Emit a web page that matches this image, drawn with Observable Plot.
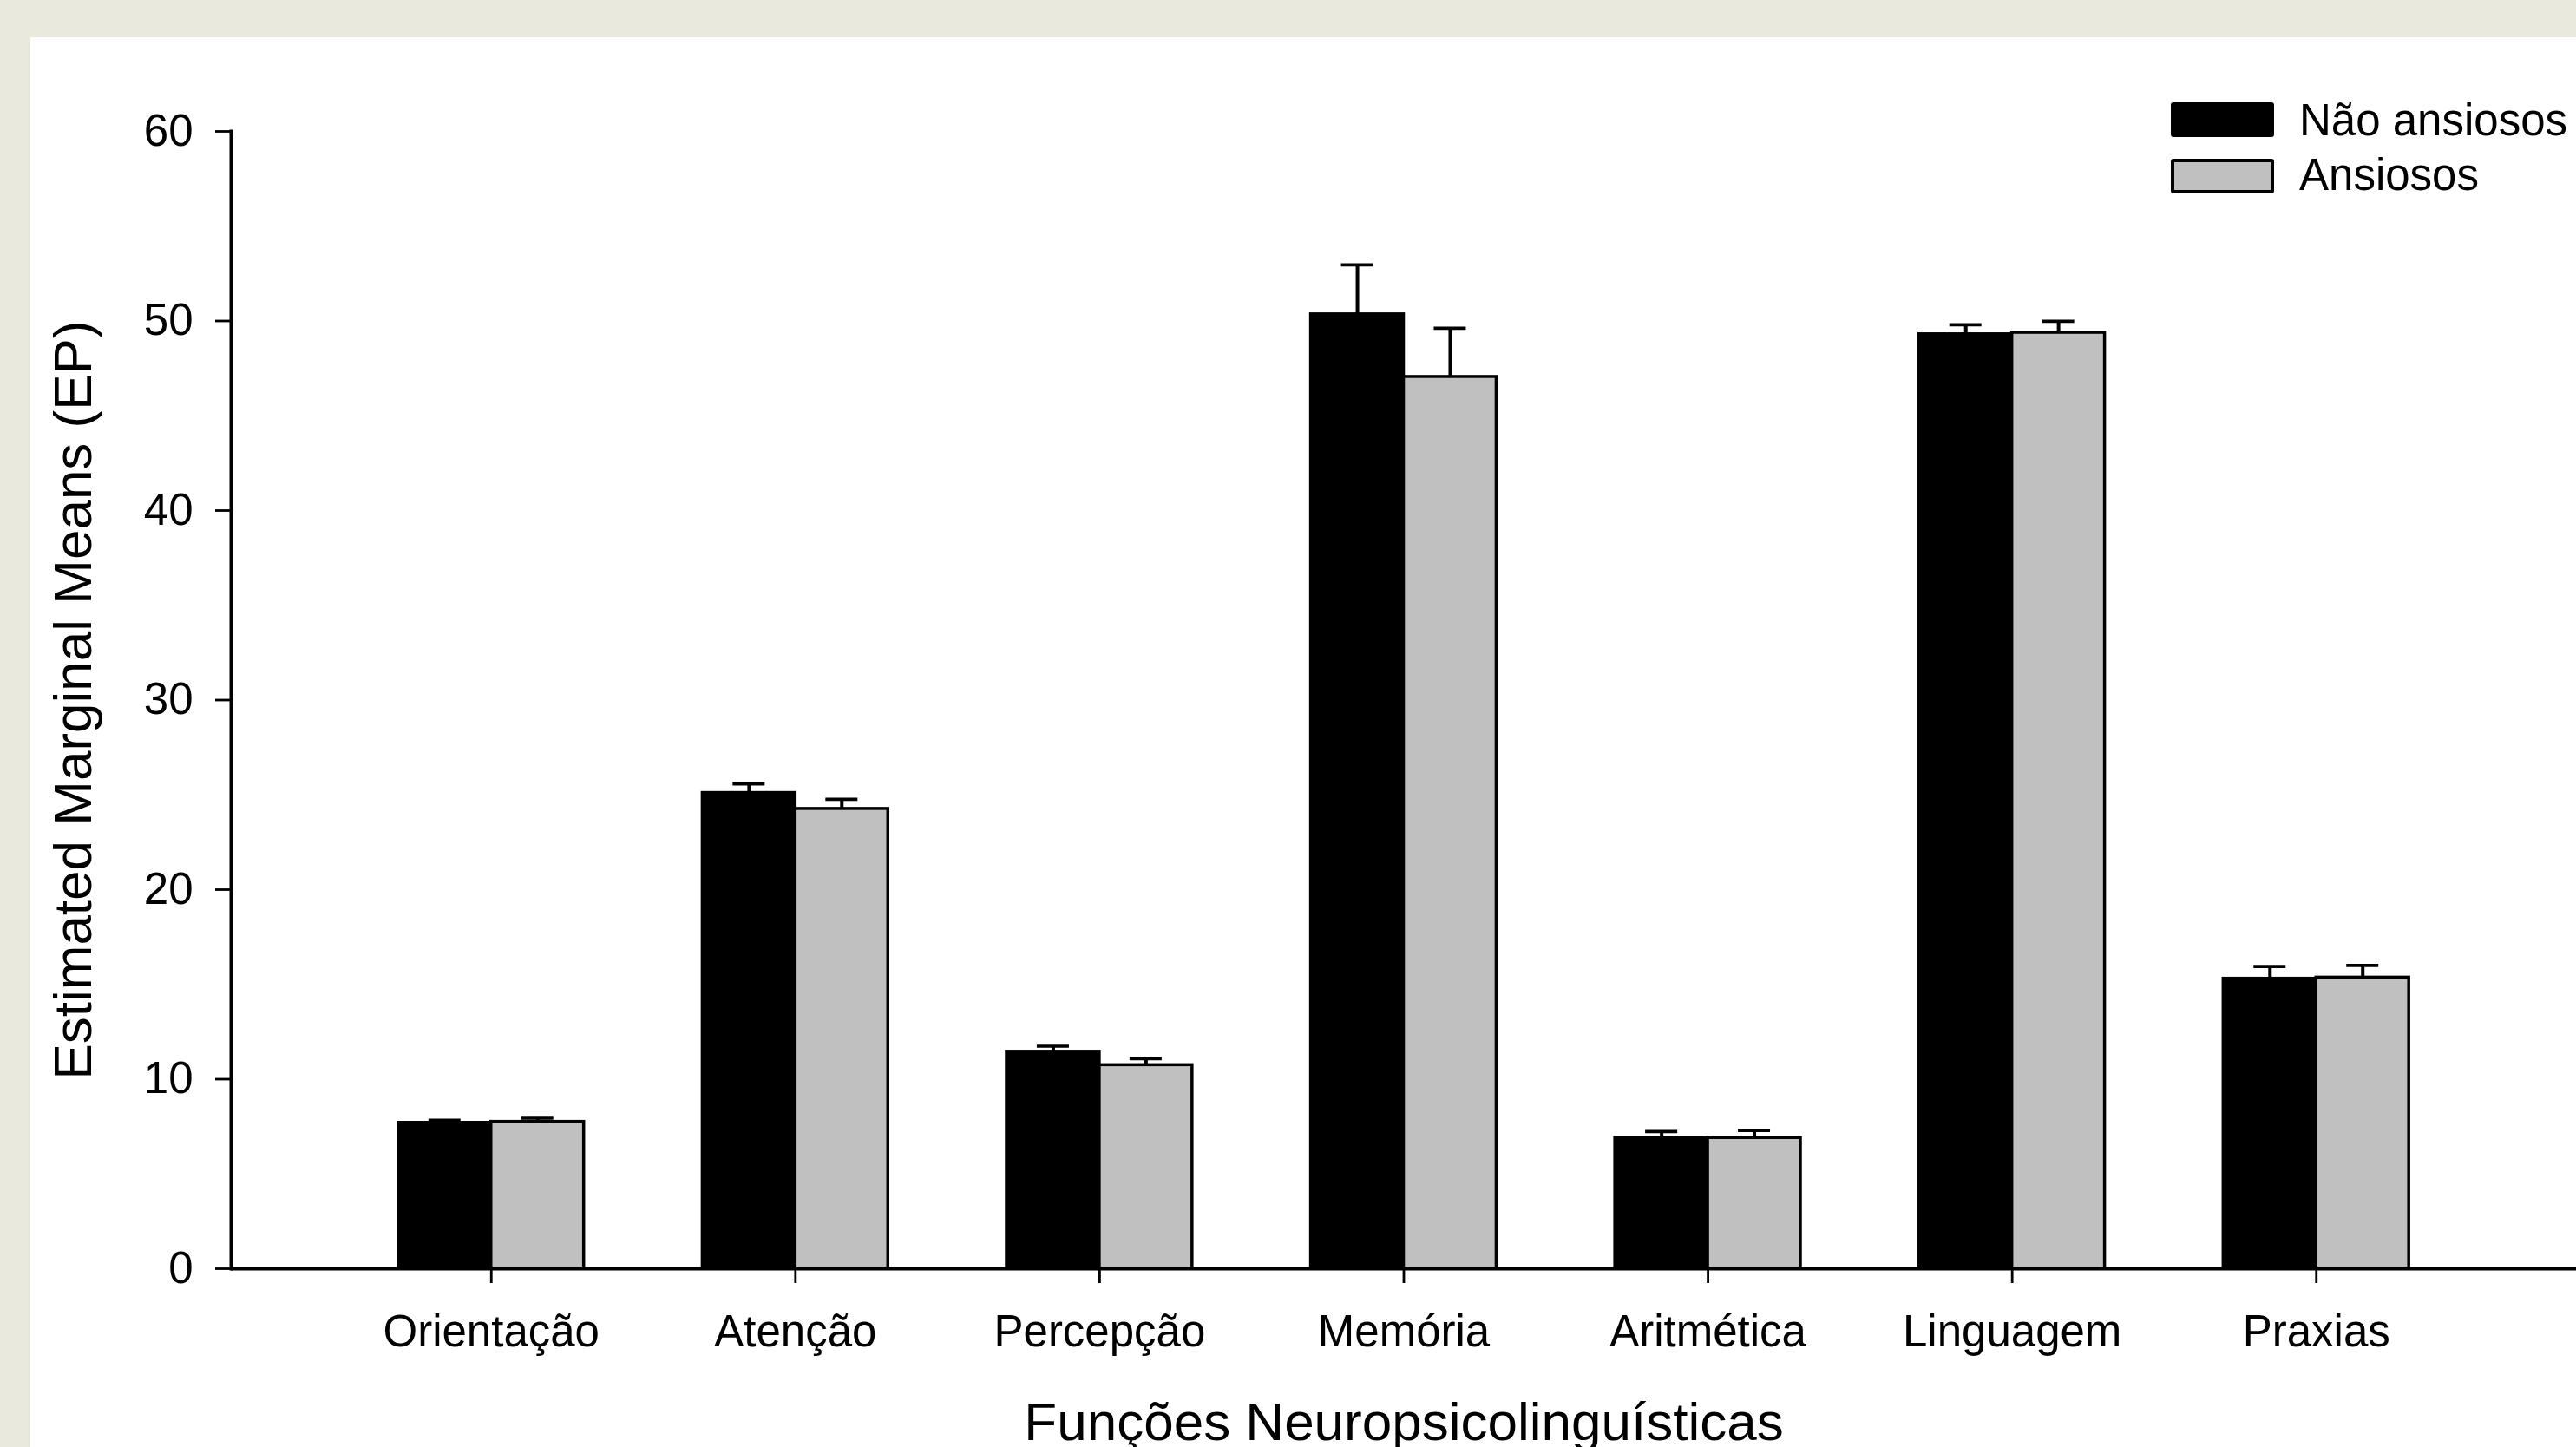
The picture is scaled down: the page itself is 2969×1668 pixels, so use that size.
<!DOCTYPE html>
<html>
<head>
<meta charset="utf-8">
<script src="https://cdn.jsdelivr.net/npm/d3@7"></script>
<script src="https://cdn.jsdelivr.net/npm/@observablehq/plot@0.6"></script>
<style>
  html, body { margin: 0; padding: 0; }
  body { width: 2969px; height: 1668px; background: #e9e9de; overflow: hidden; position: relative;
         font-family: "Liberation Sans", Arial, sans-serif; }
  #panel { position: absolute; left: 35px; top: 43px; width: 2934px; height: 1625px; background: #ffffff; overflow: hidden; }
  .lg-box { position: absolute; box-sizing: border-box; border-radius: 3px; }
  .lg-text { position: absolute; font-size: 51px; line-height: 1; color: #000; white-space: nowrap; }
</style>
</head>
<body>
<div id="panel"></div>
<script>
// ---- Data ----
const categories = ["Orientação", "Atenção", "Percepção", "Memória", "Aritmética", "Linguagem", "Praxias"];
const groups = ["Não ansiosos", "Ansiosos"];
const meanNao = [7.70, 25.10, 11.45, 50.35, 6.90, 49.30, 15.30];
const seNao   = [0.13, 0.48, 0.29, 2.61, 0.34, 0.50, 0.64];
const meanAns = [7.75, 24.26, 10.74, 47.05, 6.90, 49.38, 15.36];
const seAns   = [0.19, 0.51, 0.34, 2.57, 0.39, 0.60, 0.64];
const yTicks = [0, 10, 20, 30, 40, 50, 60];
const yTitle = "Estimated Marginal Means (EP)";
const xTitle = "Funções Neuropsicolinguísticas";

const rowsNao = categories.map((c, i) => ({category: c, group: groups[0], mean: meanNao[i], se: seNao[i]}));
const rowsAns = categories.map((c, i) => ({category: c, group: groups[1], mean: meanAns[i], se: seAns[i]}));

// ---- Layout ----
const W = 2934, H = 1625;
const mL = 231, mR = 0, mT = 108, mB = 206;
const pInner = 0.39, pOuter = 0.55;
const step = (W - mL - mR) / (categories.length - pInner + 2 * pOuter);
const B = step * (1 - pInner);      // width of a bar pair
const capHalf = 18.5;

const plot = Plot.plot({
  width: W,
  height: H,
  marginLeft: mL,
  marginRight: mR,
  marginTop: mT,
  marginBottom: mB,
  style: {fontFamily: '"Liberation Sans", Arial, sans-serif', background: "transparent", color: "#000", overflow: "visible", maxWidth: "none"},
  x: {domain: categories, paddingInner: pInner, paddingOuter: pOuter, round: false, label: null},
  y: {domain: [0, 60], label: null},
  marks: [
    // error bars (upper only)
    Plot.ruleX(rowsNao, {x: "category", y1: "mean", y2: d => d.mean + d.se, dx: -B / 4, stroke: "#000", strokeWidth: 4}),
    Plot.ruleX(rowsAns, {x: "category", y1: "mean", y2: d => d.mean + d.se, dx: B / 4, stroke: "#000", strokeWidth: 4}),
    Plot.tickY(rowsNao, {x: "category", y: d => d.mean + d.se, insetLeft: B / 4 - capHalf, insetRight: 3 * B / 4 - capHalf, stroke: "#000", strokeWidth: 3.7}),
    Plot.tickY(rowsAns, {x: "category", y: d => d.mean + d.se, insetLeft: 3 * B / 4 - capHalf, insetRight: B / 4 - capHalf, stroke: "#000", strokeWidth: 3.7}),
    // bars
    Plot.barY(rowsNao, {x: "category", y: "mean", fill: "#000", stroke: "#000", strokeWidth: 3.5, insetRight: B / 2}),
    Plot.barY(rowsAns, {x: "category", y: "mean", fill: "#c0c0c0", stroke: "#000", strokeWidth: 3.5, insetLeft: B / 2}),
    // axes
    Plot.axisY({ticks: yTicks, tickSize: 18, tickPadding: 26, fontSize: 51, strokeWidth: 2.8, label: null}),
    Plot.axisX({tickSize: 17, tickPadding: 36, fontSize: 51, strokeWidth: 2.8, label: null}),
    Plot.frame({anchor: "left", stroke: "#000", strokeWidth: 4}),
    Plot.ruleY([0], {stroke: "#000", strokeWidth: 4}),
    // axis titles
    Plot.text([yTitle], {text: d => d, frameAnchor: "left", rotate: -90, dx: -181, fontSize: 62, textAnchor: "middle", lineAnchor: "middle", fill: "#000"}),
    Plot.text([xTitle], {text: d => d, frameAnchor: "bottom", dy: 153, fontSize: 62, textAnchor: "middle", lineAnchor: "top", fill: "#000"})
  ]
});
document.getElementById("panel").appendChild(plot);

// ---- Legend ----
const legend = [
  {label: groups[0], fill: "#000", top: 118, textTop: 113},
  {label: groups[1], fill: "#c0c0c0", top: 183, textTop: 176}
];
for (const item of legend) {
  const box = document.createElement("div");
  box.className = "lg-box";
  Object.assign(box.style, {left: "2502px", top: item.top + "px", width: "119px", height: "40px",
    background: item.fill, border: "4px solid #000"});
  document.body.appendChild(box);
  const t = document.createElement("div");
  t.className = "lg-text";
  t.textContent = item.label;
  Object.assign(t.style, {left: "2650px", top: item.textTop + "px"});
  document.body.appendChild(t);
}
</script>
</body>
</html>
